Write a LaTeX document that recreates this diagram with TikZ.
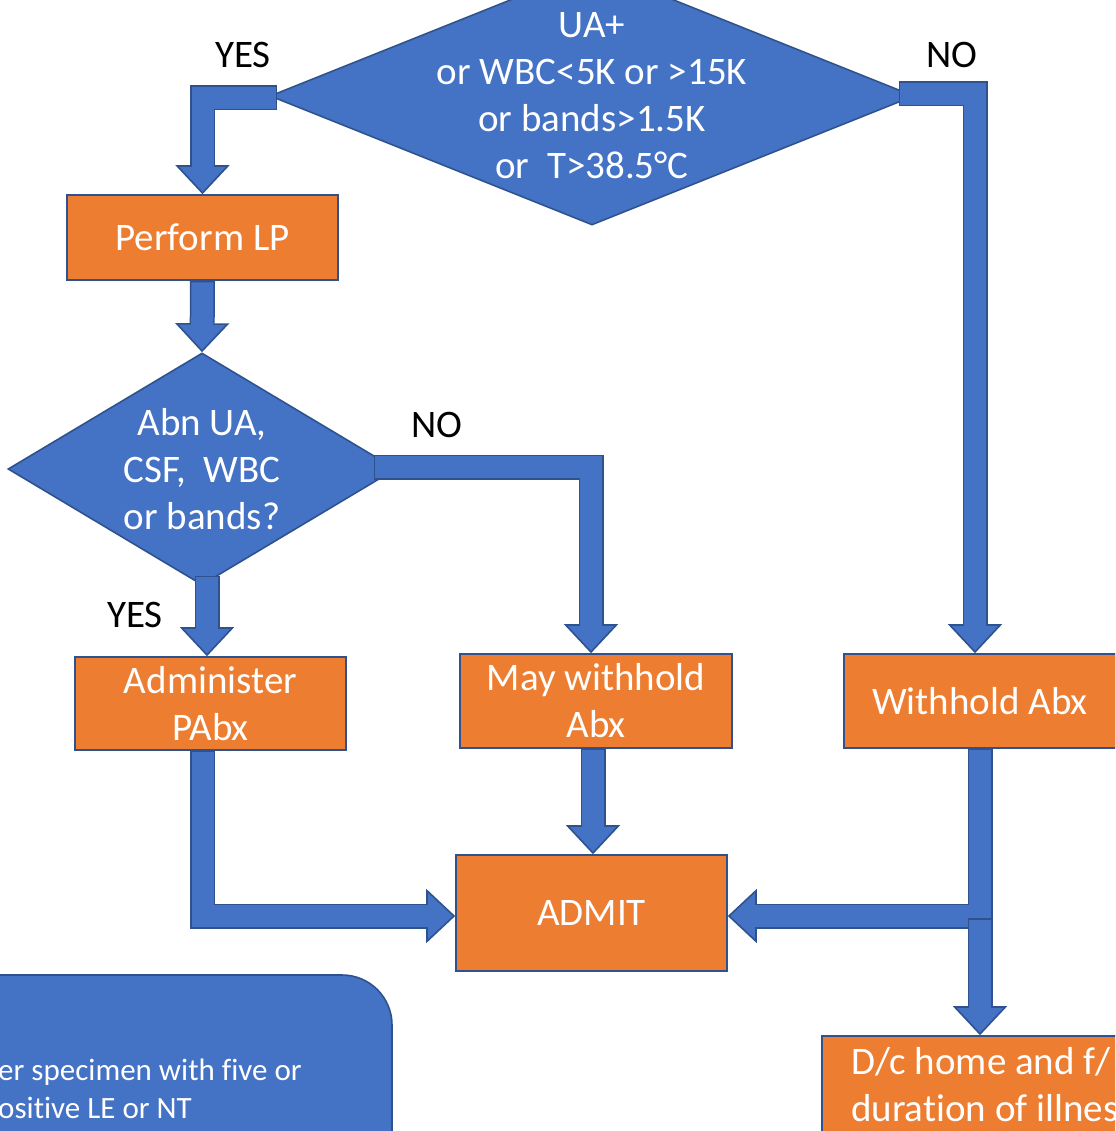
\documentclass[tikz,border=0pt]{standalone}
\usepackage{fontspec}
\setmainfont{Carlito}[Ligatures=CommonOff]
\usetikzlibrary{shapes.geometric,arrows.meta,calc}
\definecolor{bfill}{HTML}{4472C4}
\definecolor{bline}{HTML}{2F528F}
\definecolor{ofill}{HTML}{ED7D31}
\newcommand\bigfont{\fontsize{39}{47}\selectfont}
\newcommand\smallfont{\fontsize{31}{38}\selectfont}
\newcommand\blockarrow[1]{\draw[arrout] #1; \draw[arrin] #1;}
\begin{document}
\begin{tikzpicture}[x=1pt,y=-1pt,
  box/.style={rectangle, fill=ofill, draw=bline, line width=1.6pt, text=white, font=\bigfont, align=center, inner sep=0pt},
  dia/.style={diamond, fill=bfill, draw=bline, line width=1.6pt, inner sep=0pt},
  lbl/.style={text=white, font=\bigfont, align=center, inner sep=0pt},
  ans/.style={text=black, font=\bigfont, inner sep=0pt},
  arrout/.style={line width=25pt, draw=bline, -{Triangle[width=54pt,length=29pt,fill=bfill,line width=1.6pt]}},
  arrin/.style={line width=22pt, draw=bfill, shorten >=27pt, shorten <=1.6pt}]
\useasboundingbox (0,0) rectangle (1115,1131);
\clip (0,0) rectangle (1115,1131);
\fill[white] (0,0) rectangle (1115,1131);

% decisions
\node[dia, minimum width=644pt, minimum height=258pt] (d1) at (592,96) {};
\node[lbl] (d1t) at (d1.center) {UA+\\or WBC<5K or >15K\\or bands>1.5K\\or~ T>38.5°C};
\node[dia, minimum width=388pt, minimum height=232pt] (d2) at (202,469) {};
\node[lbl] (d2t) at (d2.center) {Abn UA,\\CSF,~ WBC\\or bands?};

% boxes
\node[box, minimum width=271pt, minimum height=85pt] (lp) at (202.5,237.5) {Perform LP};
\node[box, minimum width=271pt, minimum height=93pt] (adm) at (210.5,703.5) {Administer\\PAbx};
\node[box, minimum width=272pt, minimum height=94pt] (may) at (596,701) {May withhold\\Abx};
\node[box, minimum width=272pt, minimum height=94pt] (wh) at (980,701) {Withhold Abx};
\node[box, minimum width=271pt, minimum height=116pt] (admit) at (591.5,913) {ADMIT};
\node[box, minimum width=314pt, minimum height=150pt] (dc) at (979,1111) {};
\node[lbl, anchor=west, align=left] (dct) at (851,1085) {D/c home and f/\\duration of illnes};

% note box
\node[rectangle, rounded corners=50pt, fill=bfill, draw=bline, line width=1.6pt, minimum width=452pt, minimum height=240pt] (note) at (166,1095) {};
\node[anchor=west, align=left, text=white, font=\smallfont, inner sep=0pt] (notet) at (-2,1089) {er specimen with five or\\ositive LE or NT};

% answer labels
\node[ans] (yes1) at (243,55) {YES};
\node[ans] (no1) at (952,55) {NO};
\node[ans] (no2) at (437,425) {NO};
\node[ans] (yes2) at (135,615) {YES};

% connectors
\blockarrow{($(d1.west)+(8,2)$) -| (lp.north)}
\blockarrow{($(d1.east)+(-16,-2)$) -| ($(wh.north)+(-5,0)$)}
\blockarrow{(lp.south) -- (d2.north)}
\blockarrow{($(d2.south)+(5,-10)$) -- ($(d2.south |- adm.north)+(5,0)$)}
\blockarrow{($(d2.east)+(-23,-2)$) -| ($(may.north)+(-5,0)$)}
\blockarrow{($(may.south)+(-3,0)$) -- ($(may.south |- admit.north)+(-3,0)$)}
\blockarrow{($(adm.south)+(-8,0)$) |- ($(admit.west)+(0,3)$)}
\blockarrow{(wh.south) |- ($(admit.east)+(0,3)$)}
\coordinate (split) at ($(wh.south |- admit.east)+(0,5)$);
\blockarrow{(split) -- (split |- dc.north)}
\end{tikzpicture}
\end{document}
